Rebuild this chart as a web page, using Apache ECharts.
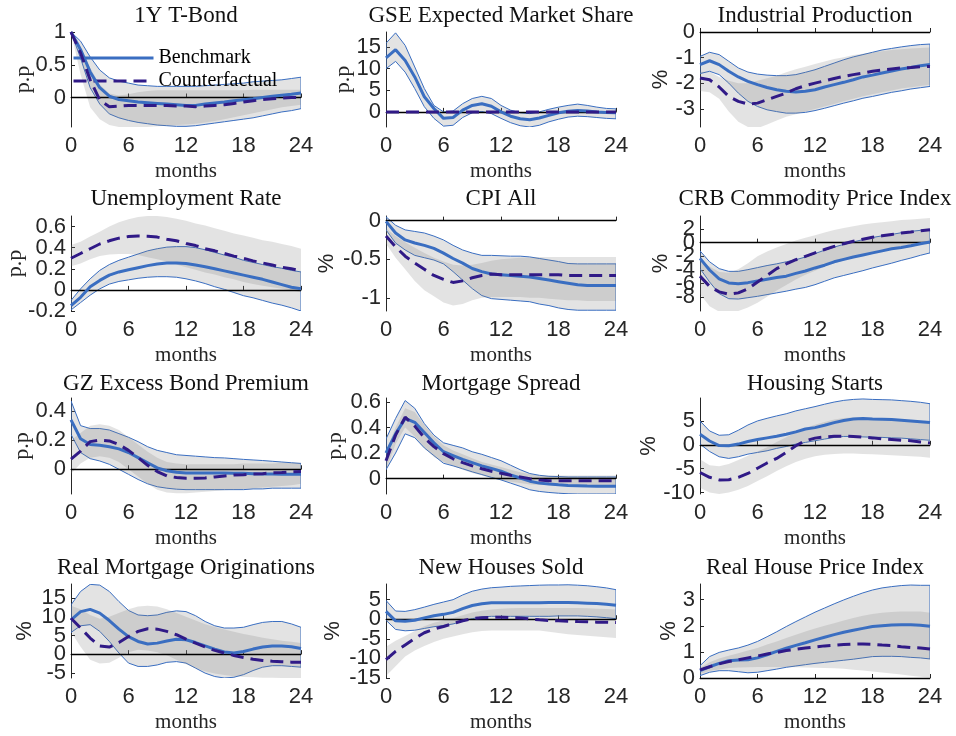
<!DOCTYPE html>
<html><head><meta charset="utf-8">
<script src="https://cdn.jsdelivr.net/npm/echarts@6/dist/echarts.min.js"></script>
<style>html,body{margin:0;padding:0;background:#fff}#chart{width:956px;height:736px}</style>
</head><body><div id="chart"></div>
<script>
// ---------------- DATA ----------------
const MONTHS = [0,1,2,3,4,5,6,7,8,9,10,11,12,13,14,15,16,17,18,19,20,21,22,23,24];
const X_TICKS = [0, 6, 12, 18, 24];
const TITLES = ['1Y T-Bond','GSE Expected Market Share','Industrial Production','Unemployment Rate','CPI All','CRB Commodity Price Index','GZ Excess Bond Premium','Mortgage Spread','Housing Starts','Real Mortgage Originations','New Houses Sold','Real House Price Index'];
const Y_NAMES = ['p.p','p.p','%','p.p','%','%','p.p','p.p','%','%','%','%'];
const Y_MIN = [-0.45, -3.5, -3.7, -0.2, -1.17, -10, -0.17, -0.12, -10.3, -6.4, -15, 0];
const Y_MAX = [1, 18.5, 0, 0.7, 0.06, 3.9, 0.49, 0.63, 9.8, 18.8, 9, 3.6];
const Y_TICKS = [[0,0.5,1],[0,5,10,15],[-3,-2,-1,0],[-0.2,0,0.2,0.4,0.6],[-1,-0.5,0],[-8,-6,-4,-2,0,2],[0,0.2,0.4],[0,0.2,0.4,0.6],[-10,-5,0,5],[-5,0,5,10,15],[-15,-10,-5,0,5],[0,1,2,3]];
const LEGEND_NAMES = ['Benchmark','Counterfactual'];

const TBOND_BENCH = [1.0,0.73,0.39,0.15,0.02,-0.03,-0.05,-0.07,-0.08,-0.09,-0.1,-0.11,-0.12,-0.12,-0.10,-0.085,-0.07,-0.05,-0.035,-0.02,0.0,0.02,0.035,0.05,0.07];
const TBOND_BENCH_HI = [1.0,0.86,0.62,0.42,0.30,0.25,0.22,0.19,0.18,0.17,0.17,0.17,0.17,0.17,0.18,0.19,0.2,0.21,0.22,0.24,0.25,0.26,0.27,0.29,0.31];
const TBOND_BENCH_LO = [1.0,0.6,0.15,-0.1,-0.25,-0.31,-0.35,-0.38,-0.4,-0.42,-0.43,-0.44,-0.44,-0.43,-0.41,-0.39,-0.37,-0.35,-0.33,-0.31,-0.28,-0.25,-0.22,-0.2,-0.17];
const TBOND_CF = [1.0,0.68,0.27,-0.04,-0.14,-0.13,-0.12,-0.12,-0.12,-0.12,-0.12,-0.13,-0.13,-0.14,-0.13,-0.12,-0.11,-0.09,-0.07,-0.05,-0.03,-0.02,-0.01,0.0,0.0];
const TBOND_CF_HI = [1.0,0.78,0.45,0.2,0.06,0.03,0.05,0.08,0.1,0.11,0.11,0.11,0.11,0.11,0.11,0.11,0.11,0.11,0.11,0.12,0.12,0.12,0.12,0.12,0.12];
const TBOND_CF_LO = [1.0,0.35,-0.15,-0.33,-0.42,-0.45,-0.46,-0.46,-0.45,-0.44,-0.43,-0.42,-0.41,-0.4,-0.38,-0.36,-0.33,-0.3,-0.27,-0.24,-0.21,-0.18,-0.15,-0.13,-0.11];

const GSE_BENCH = [12.5,14.4,11.9,8.1,3.5,0.8,-1.5,-1.3,0.4,1.5,1.9,1.3,0.0,-1.0,-1.6,-1.8,-1.4,-0.8,-0.2,0.15,0.3,0.2,0.0,-0.15,-0.2];
const GSE_BENCH_HI = [15.9,18.3,15.4,10.4,5.4,1.5,0.0,0.2,1.9,3.1,3.6,3.1,1.5,0.4,-0.2,-0.4,0.0,0.6,1.1,1.5,1.8,1.5,1.1,0.8,0.7];
const GSE_BENCH_LO = [10.0,11.7,9.2,5.4,1.2,-1.5,-3.3,-3.1,-1.3,-0.2,0.1,-0.4,-1.5,-2.5,-3.2,-3.5,-3.1,-2.3,-1.7,-1.2,-1.0,-1.1,-1.3,-1.5,-1.6];
const GSE_CF = [0,0,0,0,0,0,0,0,0,0,0,0,0,0,0,0,0,0,0,0,0,0,0,0,0];
const GSE_CF_HI = [0,0,0,0,0,0,0,0,0,0,0,0,0,0,0,0,0,0,0,0,0,0,0,0,0];
const GSE_CF_LO = [0,0,0,0,0,0,0,0,0,0,0,0,0,0,0,0,0,0,0,0,0,0,0,0,0];

const IP_BENCH = [-1.27,-1.12,-1.27,-1.53,-1.75,-1.92,-2.05,-2.16,-2.25,-2.31,-2.34,-2.31,-2.25,-2.14,-2.05,-1.96,-1.86,-1.75,-1.68,-1.6,-1.52,-1.44,-1.38,-1.31,-1.27];
const IP_BENCH_HI = [-0.95,-0.79,-0.88,-1.14,-1.40,-1.56,-1.64,-1.68,-1.70,-1.70,-1.66,-1.57,-1.47,-1.34,-1.21,-1.08,-0.97,-0.88,-0.79,-0.70,-0.64,-0.58,-0.53,-0.49,-0.47];
const IP_BENCH_LO = [-1.62,-1.53,-1.66,-1.99,-2.38,-2.70,-2.90,-3.03,-3.10,-3.16,-3.16,-3.13,-3.06,-2.97,-2.87,-2.77,-2.68,-2.58,-2.51,-2.43,-2.35,-2.29,-2.22,-2.17,-2.12];
const IP_CF = [-1.79,-1.86,-2.14,-2.51,-2.70,-2.81,-2.77,-2.64,-2.51,-2.38,-2.21,-2.09,-1.99,-1.90,-1.81,-1.73,-1.66,-1.60,-1.53,-1.48,-1.44,-1.40,-1.38,-1.35,-1.34];
const IP_CF_HI = [-1.55,-1.55,-1.75,-1.9,-2.0,-2.0,-1.9,-1.8,-1.7,-1.57,-1.45,-1.35,-1.25,-1.15,-1.05,-0.98,-0.9,-0.85,-0.8,-0.75,-0.7,-0.67,-0.64,-0.62,-0.6];
const IP_CF_LO = [-2.3,-2.35,-2.6,-3.1,-3.5,-3.7,-3.75,-3.6,-3.45,-3.3,-3.2,-3.1,-3.0,-2.9,-2.8,-2.7,-2.6,-2.5,-2.42,-2.35,-2.28,-2.2,-2.15,-2.1,-2.05];

const UNEMP_BENCH = [-0.15,-0.07,0.03,0.09,0.14,0.17,0.19,0.21,0.23,0.245,0.255,0.255,0.25,0.235,0.22,0.2,0.18,0.16,0.14,0.12,0.1,0.075,0.05,0.025,0.01];
const UNEMP_BENCH_HI = [-0.1,0.01,0.105,0.185,0.24,0.28,0.31,0.34,0.37,0.39,0.405,0.41,0.41,0.4,0.38,0.355,0.33,0.31,0.28,0.26,0.24,0.22,0.205,0.185,0.17];
const UNEMP_BENCH_LO = [-0.19,-0.12,-0.05,0.01,0.055,0.08,0.095,0.11,0.12,0.125,0.125,0.12,0.105,0.085,0.06,0.03,0.005,-0.025,-0.055,-0.075,-0.1,-0.125,-0.145,-0.17,-0.2];
const UNEMP_CF = [0.3,0.345,0.39,0.435,0.465,0.49,0.505,0.51,0.508,0.5,0.48,0.465,0.44,0.42,0.39,0.37,0.345,0.32,0.3,0.275,0.255,0.235,0.215,0.2,0.18];
const UNEMP_CF_HI = [0.425,0.457,0.505,0.55,0.6,0.64,0.67,0.69,0.7,0.7,0.69,0.675,0.655,0.63,0.61,0.585,0.56,0.535,0.515,0.495,0.47,0.455,0.435,0.415,0.39];
const UNEMP_CF_LO = [0.225,0.25,0.29,0.32,0.335,0.34,0.34,0.33,0.31,0.29,0.27,0.24,0.215,0.19,0.165,0.145,0.12,0.1,0.075,0.055,0.04,0.025,0.01,-0.005,-0.02];

const CPI_BENCH = [-0.01,-0.16,-0.25,-0.29,-0.32,-0.36,-0.42,-0.49,-0.55,-0.62,-0.66,-0.69,-0.7,-0.71,-0.72,-0.73,-0.75,-0.77,-0.79,-0.81,-0.83,-0.84,-0.84,-0.84,-0.84];
const CPI_BENCH_HI = [0.05,-0.06,-0.12,-0.14,-0.16,-0.2,-0.25,-0.32,-0.38,-0.42,-0.45,-0.45,-0.455,-0.46,-0.46,-0.47,-0.49,-0.51,-0.53,-0.555,-0.56,-0.56,-0.56,-0.56,-0.56];
const CPI_BENCH_LO = [-0.12,-0.29,-0.38,-0.45,-0.48,-0.51,-0.56,-0.66,-0.77,-0.88,-0.97,-1.01,-1.02,-1.03,-1.04,-1.05,-1.08,-1.1,-1.13,-1.15,-1.16,-1.16,-1.16,-1.16,-1.16];
const CPI_CF = [-0.2,-0.34,-0.46,-0.55,-0.63,-0.71,-0.76,-0.8,-0.78,-0.74,-0.71,-0.69,-0.7,-0.7,-0.7,-0.7,-0.7,-0.7,-0.7,-0.71,-0.71,-0.71,-0.71,-0.71,-0.71];
const CPI_CF_HI = [-0.1,-0.2,-0.28,-0.35,-0.42,-0.48,-0.53,-0.57,-0.58,-0.57,-0.55,-0.52,-0.5,-0.49,-0.48,-0.48,-0.47,-0.47,-0.47,-0.47,-0.47,-0.47,-0.47,-0.47,-0.47];
const CPI_CF_LO = [-0.3,-0.48,-0.63,-0.78,-0.9,-0.98,-1.06,-1.1,-1.08,-1.03,-1.0,-0.99,-0.99,-0.99,-0.99,-1.0,-1.0,-1.01,-1.02,-1.03,-1.03,-1.04,-1.04,-1.04,-1.04];

const CRB_BENCH = [-2.3,-4.0,-5.3,-5.9,-6.0,-5.85,-5.6,-5.35,-5.1,-4.9,-4.5,-4.15,-3.7,-3.3,-2.8,-2.45,-2.1,-1.8,-1.5,-1.2,-0.9,-0.7,-0.45,-0.15,0.1];
const CRB_BENCH_HI = [-1.2,-2.8,-3.8,-4.2,-4.2,-3.95,-3.65,-3.35,-3.1,-2.8,-2.5,-2.1,-1.6,-1.1,-0.65,-0.25,0.1,0.45,0.75,1.0,1.2,1.45,1.65,1.8,1.95];
const CRB_BENCH_LO = [-3.8,-5.75,-7.45,-8.2,-8.25,-8.05,-7.85,-7.6,-7.35,-7.1,-6.8,-6.55,-6.15,-5.65,-5.15,-4.8,-4.45,-4.1,-3.7,-3.35,-3.0,-2.6,-2.25,-1.85,-1.5];
const CRB_CF = [-4.9,-6.4,-7.2,-7.55,-7.35,-6.75,-5.75,-4.8,-3.8,-3.1,-2.5,-2.0,-1.5,-1.0,-0.55,-0.15,0.2,0.5,0.8,1.0,1.2,1.4,1.55,1.75,1.9];
const CRB_CF_HI = [-2.5,-3.5,-4.3,-4.4,-3.9,-3.0,-2.0,-1.3,-0.7,-0.2,0.3,0.7,1.1,1.5,1.85,2.15,2.4,2.65,2.85,3.0,3.15,3.3,3.4,3.5,3.6];
const CRB_CF_LO = [-7.5,-9.3,-10.1,-10.2,-10.0,-9.5,-8.8,-7.9,-7.0,-6.2,-5.4,-4.7,-4.1,-3.5,-3.0,-2.6,-2.1,-1.7,-1.4,-1.1,-0.8,-0.5,-0.3,-0.1,0.1];

const EBP_BENCH = [0.34,0.21,0.17,0.165,0.155,0.14,0.115,0.08,0.045,0.01,-0.01,-0.02,-0.025,-0.025,-0.025,-0.025,-0.025,-0.027,-0.028,-0.03,-0.032,-0.033,-0.034,-0.035,-0.035];
const EBP_BENCH_HI = [0.47,0.3,0.28,0.28,0.27,0.245,0.22,0.19,0.155,0.13,0.115,0.1,0.095,0.09,0.085,0.08,0.078,0.073,0.068,0.064,0.06,0.055,0.05,0.045,0.04];
const EBP_BENCH_LO = [0.24,0.115,0.073,0.057,0.034,0.0,-0.035,-0.07,-0.1,-0.12,-0.13,-0.137,-0.14,-0.14,-0.14,-0.14,-0.14,-0.14,-0.14,-0.135,-0.135,-0.13,-0.13,-0.13,-0.13];
const EBP_CF = [0.07,0.125,0.19,0.2,0.195,0.17,0.13,0.08,0.027,-0.016,-0.046,-0.057,-0.062,-0.062,-0.06,-0.053,-0.046,-0.04,-0.037,-0.032,-0.03,-0.025,-0.023,-0.018,-0.016];
const EBP_CF_HI = [0.2,0.25,0.3,0.31,0.3,0.27,0.22,0.17,0.12,0.08,0.05,0.04,0.035,0.035,0.035,0.035,0.035,0.035,0.04,0.04,0.04,0.04,0.045,0.045,0.045];
const EBP_CF_LO = [-0.03,0.04,0.08,0.09,0.08,0.05,0.0,-0.05,-0.1,-0.14,-0.16,-0.165,-0.165,-0.16,-0.155,-0.15,-0.145,-0.14,-0.135,-0.13,-0.125,-0.12,-0.115,-0.11,-0.1];

const MSPREAD_BENCH = [0.2,0.35,0.47,0.44,0.36,0.28,0.21,0.18,0.15,0.125,0.1,0.08,0.058,0.03,0.005,-0.02,-0.035,-0.042,-0.048,-0.053,-0.055,-0.058,-0.06,-0.06,-0.06];
const MSPREAD_BENCH_HI = [0.31,0.47,0.61,0.55,0.43,0.34,0.28,0.26,0.24,0.21,0.19,0.165,0.14,0.105,0.07,0.04,0.026,0.018,0.016,0.013,0.013,0.013,0.013,0.013,0.013];
const MSPREAD_BENCH_LO = [0.07,0.2,0.35,0.32,0.24,0.18,0.12,0.1,0.077,0.053,0.032,0.01,-0.01,-0.035,-0.06,-0.087,-0.1,-0.108,-0.114,-0.118,-0.12,-0.12,-0.12,-0.12,-0.12];
const MSPREAD_CF = [0.14,0.34,0.48,0.41,0.32,0.25,0.195,0.155,0.125,0.1,0.077,0.058,0.042,0.026,0.013,0.0,-0.01,-0.016,-0.016,-0.016,-0.016,-0.016,-0.016,-0.016,-0.016];
const MSPREAD_CF_HI = [0.22,0.4,0.55,0.52,0.42,0.33,0.26,0.22,0.19,0.16,0.13,0.11,0.09,0.07,0.05,0.035,0.025,0.025,0.025,0.025,0.025,0.025,0.025,0.025,0.025];
const MSPREAD_CF_LO = [0.07,0.27,0.4,0.33,0.24,0.17,0.13,0.1,0.07,0.045,0.025,0.005,-0.01,-0.025,-0.035,-0.045,-0.05,-0.05,-0.05,-0.05,-0.05,-0.05,-0.05,-0.05,-0.05];

const HSTARTS_BENCH = [2.2,0.8,-0.15,-0.2,0.15,0.7,1.1,1.45,1.8,2.2,2.7,3.3,3.6,4.1,4.65,5.1,5.4,5.5,5.4,5.35,5.3,5.15,5.0,4.85,4.65];
const HSTARTS_BENCH_HI = [5.0,2.9,2.0,2.1,3.05,4.15,5.0,5.55,6.05,6.5,7.1,7.55,8.0,8.5,8.95,9.3,9.5,9.6,9.5,9.45,9.4,9.25,9.1,8.9,8.6];
const HSTARTS_BENCH_LO = [0.15,-1.4,-2.5,-2.85,-2.5,-1.95,-1.6,-1.25,-0.75,-0.35,0.15,0.5,0.85,1.2,1.55,1.75,1.75,1.65,1.6,1.55,1.45,1.4,1.25,1.1,0.95];
const HSTARTS_CF = [-5.8,-6.8,-7.35,-7.3,-6.8,-6.0,-4.9,-3.8,-2.85,-1.6,-0.2,0.85,1.4,1.65,1.8,1.8,1.75,1.6,1.45,1.25,1.1,0.95,0.85,0.6,0.4];
const HSTARTS_CF_HI = [-3.0,-4.3,-4.5,-4.0,-3.2,-2.3,-1.4,-0.5,0.6,1.6,2.6,3.5,4.2,4.8,5.3,5.6,5.7,5.7,5.6,5.5,5.3,5.1,4.9,4.7,4.5];
const HSTARTS_CF_LO = [-9.0,-10.0,-10.3,-10.0,-9.4,-8.6,-7.6,-6.6,-5.5,-4.5,-3.6,-2.9,-2.4,-2.1,-1.9,-1.8,-1.8,-1.9,-2.0,-2.1,-2.2,-2.3,-2.4,-2.5,-2.7];

const MORIG_BENCH = [9.2,11.4,12.0,11.0,9.0,6.7,4.7,3.4,2.7,2.95,3.5,4.0,3.85,3.1,2.2,1.35,0.6,0.3,0.7,1.35,1.9,2.2,2.2,2.0,1.5];
const MORIG_BENCH_HI = [13.2,16.8,18.7,18.5,16.8,14.1,11.7,10.5,10.3,10.5,11.2,11.6,11.4,10.3,8.75,7.6,7.0,7.0,7.2,7.9,8.5,8.75,8.75,8.1,7.2];
const MORIG_BENCH_LO = [5.8,7.6,7.9,6.1,3.4,0.3,-2.4,-3.3,-3.3,-2.9,-2.2,-2.0,-2.4,-3.75,-5.1,-6.0,-6.4,-6.2,-5.5,-4.4,-3.5,-3.1,-3.1,-3.3,-3.5];
const MORIG_CF = [9.6,7.0,4.3,2.2,1.9,3.1,4.7,6.1,6.8,6.7,6.1,5.2,4.0,2.95,1.9,1.0,0.3,-0.35,-0.9,-1.35,-1.7,-1.9,-2.05,-2.15,-2.2];
const MORIG_CF_HI = [13,12,10.5,9.5,10,11,12,12.8,13,12.8,12,11,10,9,8,7.3,6.6,6,5.4,4.9,4.4,4.0,3.6,3.3,3.0];
const MORIG_CF_LO = [6,2,-1.5,-2.5,-2.3,-1.0,0.5,1.2,1.0,0.5,-0.3,-1.5,-2.7,-3.8,-4.6,-5.2,-5.6,-5.9,-6.1,-6.2,-6.3,-6.3,-6.4,-6.4,-6.4];

const NHS_BENCH = [2.0,-0.4,-0.5,-0.25,0.35,0.9,1.25,1.75,2.7,3.5,3.95,4.2,4.2,4.2,4.2,4.2,4.2,4.3,4.3,4.3,4.2,4.1,4.0,3.85,3.6];
const NHS_BENCH_HI = [4.8,2.1,2.0,2.45,3.1,3.8,4.4,5.0,6.2,7.15,7.7,8.05,8.2,8.4,8.5,8.6,8.7,8.75,8.75,8.8,8.7,8.55,8.3,8.0,7.55];
const NHS_BENCH_LO = [-0.25,-2.6,-2.95,-2.8,-2.35,-1.9,-1.6,-1.2,-0.5,0.15,0.6,0.75,0.75,0.75,0.75,0.75,0.75,0.75,0.85,0.85,0.85,0.75,0.6,0.4,0.15];
const NHS_CF = [-10.3,-8.2,-6.55,-4.9,-3.45,-2.5,-1.85,-1.1,-0.4,0.15,0.4,0.5,0.5,0.4,0.35,0.1,-0.15,-0.35,-0.4,-0.5,-0.6,-0.65,-0.75,-0.75,-0.85];
const NHS_CF_HI = [-7,-5.5,-4.3,-3.0,-1.8,-0.9,-0.3,0.3,1.0,1.7,2.2,2.5,2.7,2.8,2.9,2.9,2.9,2.9,2.9,2.9,2.9,2.8,2.7,2.6,2.5];
const NHS_CF_LO = [-14.5,-12,-9.5,-8,-6.8,-5.8,-5.0,-4.4,-3.8,-3.3,-3.0,-2.9,-2.9,-2.9,-2.9,-2.9,-2.9,-3.2,-3.5,-3.8,-4.0,-4.2,-4.4,-4.6,-4.8];

const HPI_BENCH = [0.28,0.43,0.56,0.66,0.69,0.7,0.77,0.89,1.02,1.14,1.25,1.35,1.46,1.56,1.66,1.75,1.83,1.9,1.97,2.0,2.03,2.04,2.04,2.02,1.98];
const HPI_BENCH_HI = [0.47,0.82,0.98,1.07,1.15,1.26,1.4,1.58,1.77,1.97,2.16,2.34,2.52,2.68,2.84,2.99,3.13,3.26,3.37,3.45,3.5,3.54,3.56,3.55,3.55];
const HPI_BENCH_LO = [0.09,0.22,0.28,0.28,0.24,0.2,0.22,0.28,0.34,0.41,0.46,0.51,0.56,0.6,0.64,0.68,0.72,0.77,0.82,0.83,0.83,0.82,0.79,0.77,0.73];
const HPI_CF = [0.31,0.43,0.54,0.63,0.7,0.77,0.84,0.92,0.98,1.05,1.1,1.15,1.19,1.23,1.25,1.28,1.3,1.3,1.29,1.26,1.24,1.2,1.17,1.15,1.11];
const HPI_CF_HI = [0.38,0.6,0.75,0.85,0.95,1.05,1.15,1.28,1.4,1.53,1.66,1.78,1.9,2.0,2.1,2.2,2.3,2.38,2.45,2.5,2.53,2.55,2.55,2.55,2.5];
const HPI_CF_LO = [0.15,0.27,0.33,0.38,0.4,0.41,0.42,0.42,0.42,0.42,0.41,0.4,0.39,0.38,0.37,0.35,0.32,0.29,0.25,0.21,0.17,0.13,0.09,0.05,0.02];

// ---------------- BUILD ----------------
const PANEL_DATA = [
  [TBOND_BENCH, TBOND_BENCH_LO, TBOND_BENCH_HI, TBOND_CF, TBOND_CF_LO, TBOND_CF_HI],
  [GSE_BENCH, GSE_BENCH_LO, GSE_BENCH_HI, GSE_CF, GSE_CF_LO, GSE_CF_HI],
  [IP_BENCH, IP_BENCH_LO, IP_BENCH_HI, IP_CF, IP_CF_LO, IP_CF_HI],
  [UNEMP_BENCH, UNEMP_BENCH_LO, UNEMP_BENCH_HI, UNEMP_CF, UNEMP_CF_LO, UNEMP_CF_HI],
  [CPI_BENCH, CPI_BENCH_LO, CPI_BENCH_HI, CPI_CF, CPI_CF_LO, CPI_CF_HI],
  [CRB_BENCH, CRB_BENCH_LO, CRB_BENCH_HI, CRB_CF, CRB_CF_LO, CRB_CF_HI],
  [EBP_BENCH, EBP_BENCH_LO, EBP_BENCH_HI, EBP_CF, EBP_CF_LO, EBP_CF_HI],
  [MSPREAD_BENCH, MSPREAD_BENCH_LO, MSPREAD_BENCH_HI, MSPREAD_CF, MSPREAD_CF_LO, MSPREAD_CF_HI],
  [HSTARTS_BENCH, HSTARTS_BENCH_LO, HSTARTS_BENCH_HI, HSTARTS_CF, HSTARTS_CF_LO, HSTARTS_CF_HI],
  [MORIG_BENCH, MORIG_BENCH_LO, MORIG_BENCH_HI, MORIG_CF, MORIG_CF_LO, MORIG_CF_HI],
  [NHS_BENCH, NHS_BENCH_LO, NHS_BENCH_HI, NHS_CF, NHS_CF_LO, NHS_CF_HI],
  [HPI_BENCH, HPI_BENCH_LO, HPI_BENCH_HI, HPI_CF, HPI_CF_LO, HPI_CF_HI]
];

// layout (pixels)
const COL_LEFT = [71, 386, 700];
const PLOT_W = 230;
const ROW_TOP = [32, 216, 398, 584];
const ROW_H = [95, 95, 96, 94];
const TITLE_CY = [16, 199, 384, 568];
const YNAME_GAP = [37, 32, 28, 45, 48, 28, 38, 40, 40, 35, 42, 20];

const BLUE = '#3a6ec1';
const PURPLE = '#301a87';
const GREY = 'rgba(128,128,128,0.22)';
const AXIS = '#262626';
const SANS = 'Liberation Sans';
const SERIF = 'Liberation Serif';

function pairs(arr) { return MONTHS.map((m, k) => [m, arr[k]]); }

function bandSeries(gi, lo, hi, z, stroke) {
  return {
    type: 'custom', xAxisIndex: gi, yAxisIndex: gi, z: z, silent: true, clip: true,
    data: MONTHS.map((m, k) => [m, lo[k], hi[k]]),
    encode: { x: 0, y: [1, 2] },
    renderItem: function (params, api) {
      if (params.dataIndex !== 0) return null;
      const pts = [];
      for (let k = 0; k < MONTHS.length; k++) pts.push(api.coord([MONTHS[k], hi[k]]));
      for (let k = MONTHS.length - 1; k >= 0; k--) pts.push(api.coord([MONTHS[k], lo[k]]));
      const style = { fill: GREY };
      if (stroke) { style.stroke = stroke; style.lineWidth = 1; } else { style.stroke = null; }
      return { type: 'polygon', shape: { points: pts }, style: style };
    }
  };
}

function yLabelStyle(values) {
  return { fontFamily: SANS, fontSize: 22, lineHeight: 22, color: AXIS, margin: 5, customValues: values,
    showMinLabel: true, showMaxLabel: true, hideOverlap: false };
}

const grids = [], xAxes = [], yAxes = [], yAxesAlt = [], series = [], titles = [];
for (let i = 0; i < 12; i++) {
  const r = Math.floor(i / 3), c = i % 3;
  grids.push({ left: COL_LEFT[c], top: ROW_TOP[r], width: PLOT_W, height: ROW_H[r], containLabel: false });
  titles.push({
    text: TITLES[i], left: COL_LEFT[c] + PLOT_W / 2, top: TITLE_CY[r] - 12, textAlign: 'center', padding: 0,
    textStyle: { fontFamily: SERIF, fontSize: 23, lineHeight: 24, fontWeight: 'normal', color: '#111' }
  });
  xAxes.push({
    gridIndex: i, type: 'value', min: 0, max: 24, interval: 6,
    axisLine: { show: true, lineStyle: { color: AXIS, width: 1 } },
    axisTick: { show: true, inside: true, length: 4, lineStyle: { color: AXIS } },
    axisLabel: { fontFamily: SANS, fontSize: 22, color: AXIS, margin: 8, customValues: X_TICKS,
      showMinLabel: true, showMaxLabel: true, hideOverlap: false },
    splitLine: { show: false },
    name: 'months', nameLocation: 'middle', nameGap: 34, nameMoveOverlap: false,
    nameTextStyle: { fontFamily: SERIF, fontSize: 21, color: AXIS }
  });
  // tick labels split over two coincident left axes so that none is auto-hidden
  const evenTicks = Y_TICKS[i].filter((v, k) => k % 2 === 0);
  const oddTicks = Y_TICKS[i].filter((v, k) => k % 2 === 1);
  yAxes.push({
    gridIndex: i, type: 'value', position: 'left', min: Y_MIN[i], max: Y_MAX[i],
    axisLine: { show: true, onZero: false, lineStyle: { color: AXIS, width: 1 } },
    axisTick: { show: true, inside: true, length: 4, lineStyle: { color: AXIS }, customValues: Y_TICKS[i] },
    axisLabel: yLabelStyle(evenTicks),
    splitLine: { show: false },
    name: Y_NAMES[i], nameLocation: 'middle', nameRotate: 90, nameGap: YNAME_GAP[i], nameMoveOverlap: false,
    nameTextStyle: { fontFamily: Y_NAMES[i] === '%' ? SANS : SERIF, fontSize: 22, color: AXIS }
  });
  yAxesAlt.push({
    gridIndex: i, type: 'value', position: 'left', offset: 0, min: Y_MIN[i], max: Y_MAX[i],
    axisLine: { show: false, onZero: false }, axisTick: { show: false },
    axisLabel: Object.assign(yLabelStyle(oddTicks), { show: oddTicks.length > 0 }),
    splitLine: { show: false }
  });
  const P = PANEL_DATA[i];
  series.push(bandSeries(i, P[1], P[2], 1, BLUE));
  series.push(bandSeries(i, P[4], P[5], 3, null));
  series.push({
    type: 'line', xAxisIndex: i, yAxisIndex: i, data: [], z: 4, silent: true,
    markLine: { silent: true, symbol: 'none', label: { show: false }, animation: false,
      lineStyle: { color: '#000', width: 1.3, type: 'solid' }, data: [{ yAxis: 0 }] }
  });
  series.push({
    name: LEGEND_NAMES[0], type: 'line', xAxisIndex: i, yAxisIndex: i, z: 5,
    data: pairs(P[0]), symbol: 'none', showSymbol: false,
    lineStyle: { color: BLUE, width: 3 }, itemStyle: { color: BLUE }
  });
  series.push({
    name: LEGEND_NAMES[1], type: 'line', xAxisIndex: i, yAxisIndex: i, z: 6,
    data: pairs(P[3]), symbol: 'none', showSymbol: false,
    lineStyle: { color: PURPLE, width: 3, type: [13, 7] }, itemStyle: { color: PURPLE }
  });
}

const chart = echarts.init(document.getElementById('chart'), null, { renderer: 'canvas' });
chart.setOption({
  animation: false,
  backgroundColor: '#fff',
  title: titles,
  legend: {
    data: LEGEND_NAMES, left: 72, top: 48, orient: 'vertical', padding: 0,
    itemWidth: 80, itemHeight: 14, itemGap: 3, selectedMode: false,
    itemStyle: { color: 'rgba(0,0,0,0)', borderColor: 'rgba(0,0,0,0)', borderWidth: 0 },
    lineStyle: { width: 3 },
    textStyle: { fontFamily: SERIF, fontSize: 20, color: '#000' }
  },
  grid: grids, xAxis: xAxes, yAxis: yAxes.concat(yAxesAlt), series: series
});
</script></body></html>
